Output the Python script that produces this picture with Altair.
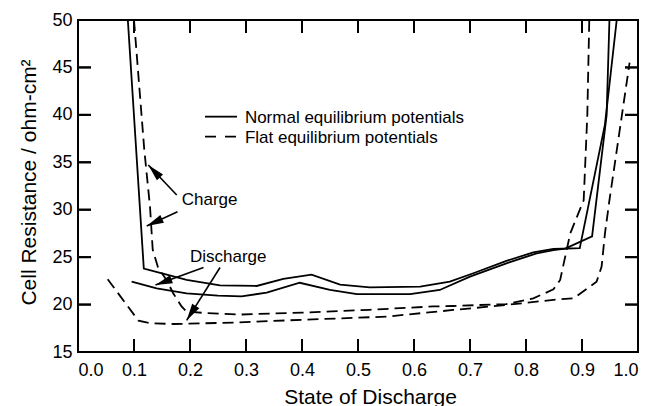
import math
import altair as alt
import pandas as pd

# ---------------- data ----------------
X_LABEL_VALUES = [0.0, 0.1, 0.2, 0.3, 0.4, 0.5, 0.6, 0.7, 0.8, 0.9, 1.0]
Y_LABEL_VALUES = [15, 20, 25, 30, 35, 40, 45, 50]
X_INNER_TICKS = [0.1, 0.2, 0.3, 0.4, 0.5, 0.6, 0.7, 0.8, 0.9]
Y_INNER_TICKS = [20, 25, 30, 35, 40, 45]

# Normal equilibrium potentials (solid)
normal_charge_x = [0.089, 0.1175, 0.15, 0.194, 0.2536, 0.319, 0.3667, 0.417, 0.468,
                   0.521, 0.611, 0.664, 0.706, 0.765, 0.813, 0.849, 0.896, 0.941, 0.962]
normal_charge_y = [50.0, 23.8, 23.3, 22.6, 22.02, 21.96, 22.7, 23.15, 22.1,
                   21.82, 21.89, 22.41, 23.3, 24.6, 25.5, 25.86, 25.95, 39.0, 50.0]
normal_discharge_x = [0.0958, 0.1405, 0.194, 0.25, 0.292, 0.337, 0.396, 0.45, 0.498,
                      0.593, 0.646, 0.7, 0.765, 0.819, 0.849, 0.87, 0.918, 0.944, 0.949]
normal_discharge_y = [22.41, 21.71, 21.19, 20.94, 20.86, 21.26, 22.3, 21.54, 21.1,
                      21.1, 21.54, 22.94, 24.35, 25.4, 25.75, 25.9, 27.2, 40.0, 50.0]

# Flat equilibrium potentials (dashed)
flat_charge_x = [0.1, 0.1184, 0.1286, 0.1334, 0.143, 0.158, 0.170, 0.185, 0.194,
                 0.23, 0.29, 0.4, 0.52, 0.634, 0.67, 0.765, 0.813, 0.849, 0.861,
                 0.879, 0.903, 0.9095, 0.913]
flat_charge_y = [50.0, 36.3, 30.3, 25.8, 23.9, 22.6, 21.2, 19.8, 19.25,
                 19.1, 18.95, 19.15, 19.45, 19.8, 19.85, 20.06, 20.66, 21.6, 22.6,
                 27.5, 31.0, 40.0, 50.0]
flat_discharge_x = [0.053, 0.108, 0.129, 0.17, 0.277, 0.402, 0.551, 0.67, 0.765,
                    0.849, 0.885, 0.926, 0.935, 0.941, 0.949, 0.985]
flat_discharge_y = [22.67, 18.3, 18.03, 17.95, 18.1, 18.4, 18.73, 19.43, 19.96,
                    20.5, 20.66, 22.4, 24.0, 27.5, 31.0, 45.5]

# Legend (drawn inside the plot)
legend_line_x = [0.2268, 0.2839]
legend_solid_y = 39.81
legend_dashed_y = 37.70
legend_text_x = 0.298
legend_texts = ["Normal equilibrium potentials", "Flat equilibrium potentials"]
legend_text_y = [39.17, 37.0]

# Annotations
annot_texts = ["Charge", "Discharge"]
annot_x = [0.1852, 0.2]
annot_y = [30.5, 24.46]

arrow_start_x = [0.1763, 0.1777, 0.2241, 0.2536]
arrow_start_y = [31.55, 29.79, 23.91, 23.91]
arrow_tip_x = [0.1255, 0.1227, 0.1384, 0.1941]
arrow_tip_y = [34.71, 28.28, 22.06, 18.34]

# ---------------- layout ----------------
W, H = 560, 332
TICK_LEN = 13  # px, inward
FONT = "Liberation Sans"
X_DOMAIN = [0.0, 1.0]
Y_DOMAIN = [15, 50]
X_SPAN = X_DOMAIN[1] - X_DOMAIN[0]
Y_SPAN = Y_DOMAIN[1] - Y_DOMAIN[0]

xs = alt.Scale(domain=X_DOMAIN, nice=False, zero=False)
ys = alt.Scale(domain=Y_DOMAIN, nice=False, zero=False)

X_AXIS = alt.Axis(values=X_LABEL_VALUES, format=".1f", ticks=False, tickSize=0,
                  domain=False, grid=False, labelPadding=9,
                  title="State of Discharge", titleX=292, titleY=51,
                  titleBaseline="alphabetic", titleAlign="center")
Y_AXIS = alt.Axis(values=Y_LABEL_VALUES, format="d", ticks=False, tickSize=0,
                  domain=False, grid=False, labelPadding=6,
                  title="Cell Resistance / ohm-cm²", titleX=-43, titleY=162,
                  titleAngle=270, titleBaseline="alphabetic", titleAlign="center")


def X(field="x"):
    return alt.X(f"{field}:Q", scale=xs, axis=X_AXIS)


def Y(field="y"):
    return alt.Y(f"{field}:Q", scale=ys, axis=Y_AXIS)


def series_df(name, xv, yv):
    return pd.DataFrame({"series": name, "x": xv, "y": yv, "i": range(len(xv))})


solid_df = pd.concat([
    series_df("normal_charge", normal_charge_x, normal_charge_y),
    series_df("normal_discharge", normal_discharge_x, normal_discharge_y),
], ignore_index=True)
dashed_df = pd.concat([
    series_df("flat_charge", flat_charge_x, flat_charge_y),
    series_df("flat_discharge", flat_discharge_x, flat_discharge_y),
], ignore_index=True)

solid = alt.Chart(solid_df).mark_line(color="black", strokeWidth=1.8, clip=True).encode(
    x=X(), y=Y(), detail="series:N", order="i:Q")
dashed = alt.Chart(dashed_df).mark_line(color="black", strokeWidth=1.8, strokeDash=[11, 6],
                                        clip=True).encode(
    x=X(), y=Y(), detail="series:N", order="i:Q")

# inward ticks on all four sides, as short rules
dy_tick = TICK_LEN * Y_SPAN / H
dx_tick = TICK_LEN * X_SPAN / W
nx, ny = len(X_INNER_TICKS), len(Y_INNER_TICKS)
tick_df = pd.DataFrame({
    "x": X_INNER_TICKS + X_INNER_TICKS + [X_DOMAIN[0]] * ny + [X_DOMAIN[1]] * ny,
    "x2": X_INNER_TICKS + X_INNER_TICKS + [X_DOMAIN[0] + dx_tick] * ny
          + [X_DOMAIN[1] - dx_tick] * ny,
    "y": [Y_DOMAIN[0]] * nx + [Y_DOMAIN[1]] * nx + Y_INNER_TICKS + Y_INNER_TICKS,
    "y2": [Y_DOMAIN[0] + dy_tick] * nx + [Y_DOMAIN[1] - dy_tick] * nx
          + Y_INNER_TICKS + Y_INNER_TICKS,
})
ticks = alt.Chart(tick_df).mark_rule(color="#111111", strokeWidth=2).encode(
    x=X(), y=Y(), x2="x2:Q", y2="y2:Q")

# legend
leg_solid_df = pd.DataFrame({"x": [legend_line_x[0]], "x2": [legend_line_x[1]],
                             "y": [legend_solid_y]})
leg_dashed_df = pd.DataFrame({"x": [legend_line_x[0]], "x2": [legend_line_x[1]],
                              "y": [legend_dashed_y]})
leg_solid = alt.Chart(leg_solid_df).mark_rule(color="black", strokeWidth=1.8).encode(
    x=X(), x2="x2:Q", y=Y())
leg_dashed = alt.Chart(leg_dashed_df).mark_rule(
    color="black", strokeWidth=1.8, strokeDash=[11, 9]).encode(x=X(), x2="x2:Q", y=Y())
leg_text_df = pd.DataFrame({"x": legend_text_x, "y": legend_text_y, "t": legend_texts})
leg_text = alt.Chart(leg_text_df).mark_text(align="left", baseline="alphabetic", font=FONT,
                                            fontSize=17, color="black").encode(
    x=X(), y=Y(), text="t:N")

# annotation labels
ann_df = pd.DataFrame({"x": annot_x, "y": annot_y, "t": annot_texts})
ann_text = alt.Chart(ann_df).mark_text(align="left", baseline="alphabetic", font=FONT,
                                       fontSize=17, color="black").encode(
    x=X(), y=Y(), text="t:N")

# arrows (tick segments also added to this rule layer)
arr_df = pd.DataFrame({"x": arrow_start_x, "y": arrow_start_y,
                       "x2": arrow_tip_x, "y2": arrow_tip_y})


def heading(r):
    dx = (r.x2 - r.x) / X_SPAN * W
    dy = -(r.y2 - r.y) / Y_SPAN * H
    return math.degrees(math.atan2(dx, -dy)) % 360


arr_df["angle"] = arr_df.apply(heading, axis=1)

rule_df = pd.concat([arr_df[["x", "y", "x2", "y2"]].assign(c="black", w=1.6),
                     tick_df.assign(c="black", w=2.0)], ignore_index=True)
arrow_lines = alt.Chart(rule_df).mark_rule().encode(
    x=X(), y=Y(), x2="x2:Q", y2="y2:Q",
    color=alt.Color("c:N", scale=None),
    strokeWidth=alt.StrokeWidth("w:Q", scale=None))
arrow_heads = alt.Chart(arr_df).mark_point(
    shape="M0,0L0.5,2L-0.5,2Z", filled=True, color="black", size=289, opacity=1,
    strokeWidth=0).encode(
    x=X("x2"), y=Y("y2"), angle=alt.Angle("angle:Q", scale=None))

chart = alt.layer(
    ticks, solid, dashed, leg_solid, leg_dashed, leg_text, ann_text,
    arrow_lines, arrow_heads,
).properties(
    width=W, height=H,
    autosize=alt.AutoSizeParams(type="none"),
    padding={"left": 78, "top": 20, "right": 16, "bottom": 54},
).configure_view(
    stroke="black", strokeWidth=2
).configure_axis(
    labelFont=FONT, labelFontSize=18, labelColor="black",
    titleFont=FONT, titleFontSize=21, titleFontWeight="normal", titleColor="black",
)

chart.save("out.html", embed_options={"renderer": "svg", "actions": False})
